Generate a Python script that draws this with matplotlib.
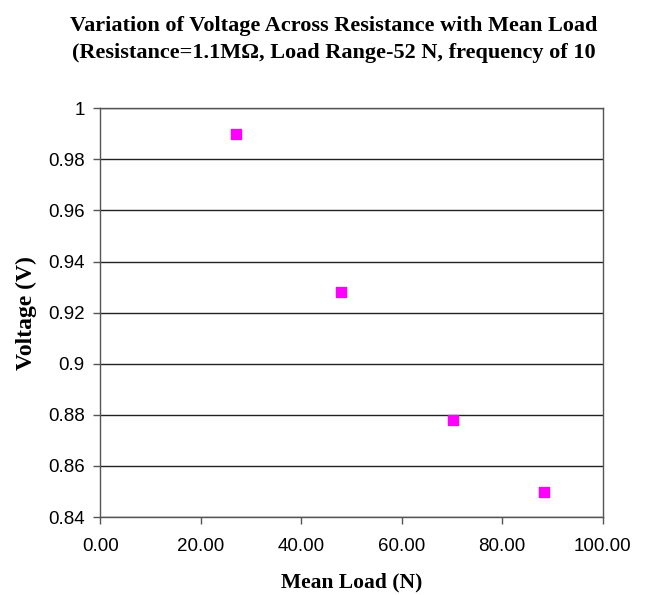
import matplotlib.pyplot as plt

# data
mean_load = [27.0, 47.9, 70.2, 88.3]
voltage = [0.990, 0.928, 0.878, 0.850]
x_ticks = [0, 20, 40, 60, 80, 100]
y_ticks = [0.84, 0.86, 0.88, 0.90, 0.92, 0.94, 0.96, 0.98, 1.00]
y_labels = ["0.84", "0.86", "0.88", "0.9", "0.92", "0.94", "0.96", "0.98", "1"]


def plot():
    fig = plt.figure(figsize=(6.46, 5.95), dpi=100)
    ax = fig.add_axes([0.155, 0.131, 0.778, 0.687])

    ax.scatter(mean_load, voltage, marker="s", s=60, color="#ff00ff", zorder=3)

    ax.set_xlim(0, 100)
    ax.set_ylim(0.84, 1.0)
    ax.set_xticks(x_ticks)
    ax.set_xticklabels([f"{v:.2f}" for v in x_ticks], fontfamily="Liberation Sans", fontsize=13.5)
    ax.set_yticks(y_ticks)
    ax.set_yticklabels(y_labels, fontfamily="Liberation Sans", fontsize=13.5)
    ax.tick_params(direction="out", length=5, width=1, color="#555555")
    ax.tick_params(axis="x", pad=10)
    ax.tick_params(axis="y", pad=6)

    ax.grid(axis="y", color="#222222", linewidth=1.0)
    ax.set_axisbelow(True)
    for sp in ax.spines.values():
        sp.set_color("#555555")
        sp.set_linewidth(1.0)

    ax.set_xlabel("Mean Load (N)", fontfamily="Liberation Serif", fontweight="bold",
                  fontsize=15.5, labelpad=13)
    ax.set_ylabel("Voltage (V)", fontfamily="Liberation Serif", fontweight="bold",
                  fontsize=17, labelpad=8)

    fig.text(0.516, 0.957, "Variation of Voltage Across Resistance with Mean Load",
             ha="center", va="center", fontfamily="Liberation Serif",
             fontweight="bold", fontsize=16)
    fig.text(0.516, 0.911, "(Resistance=1.1M\u03a9, Load Range-52 N, frequency of 10",
             ha="center", va="center", fontfamily="Liberation Serif",
             fontweight="bold", fontsize=16)

    fig.savefig("out.png", dpi=100)


if __name__ == "__main__":
    plot()
